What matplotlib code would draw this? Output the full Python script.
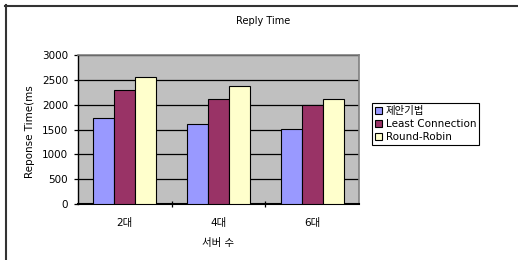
import matplotlib
matplotlib.use("Agg")
import matplotlib.pyplot as plt
import numpy as np
from matplotlib.lines import Line2D
from matplotlib.patches import Rectangle

plt.rcParams['font.family'] = ['DejaVu Sans', 'Noto Sans CJK KR']

categories = ['2대', '4대', '6대']
series_names = ['제안기법', 'Least Connection', 'Round-Robin']
proposed = [1730, 1615, 1510]
least_conn = [2290, 2105, 1990]
round_robin = [2565, 2380, 2105]
yticks = [0, 500, 1000, 1500, 2000, 2500, 3000]
colors = ['#9999FF', '#993366', '#FFFFCC']

W, H = 518, 260
fig = plt.figure(figsize=(W / 100, H / 100), dpi=100)
ax = fig.add_axes([78 / W, 1 - 204 / H, (359 - 78) / W, (204 - 55) / H])
ax.set_facecolor('#C0C0C0')

x = np.arange(len(categories))
bw = 0.225
for i, (vals, c, name) in enumerate(zip([proposed, least_conn, round_robin], colors, series_names)):
    ax.bar(x + (i - 1) * bw, vals, width=bw, color=c, edgecolor='black', linewidth=0.8,
           label=name, zorder=3)

ax.set_xlim(-0.5, 2.5)
ax.set_ylim(0, 3000)
ax.set_yticks(yticks)
ax.yaxis.grid(True, color='black', linewidth=0.9, zorder=1)
ax.set_axisbelow(True)
ax.set_xticks(x)
ax.set_xticklabels(categories)
ax.set_xticks([0.5, 1.5], minor=True)
ax.tick_params(axis='x', which='major', length=0, pad=10, labelsize=7.5)
ax.tick_params(axis='x', which='minor', length=4, direction='inout', width=0.9)
ax.tick_params(axis='y', length=3, direction='out', width=0.9, pad=4, labelsize=7.5)

for s in ['top', 'right']:
    ax.spines[s].set_color('#808080')
    ax.spines[s].set_linewidth(1.2)
ax.spines['left'].set_color('black')
ax.spines['bottom'].set_color('black')
ax.spines['left'].set_linewidth(1.0)
ax.spines['bottom'].set_linewidth(1.5)

ax.set_xlabel('서버 수', fontsize=7.5, labelpad=7)

fig.text(30 / W, 1 - 178 / H, 'Reponse Time(ms)', rotation=90, ha='center', va='bottom',
         fontsize=7.5, zorder=1)
# chart area boundary cuts the axis title, as in the original
fig.add_artist(Rectangle((18 / W, 1 - 86 / H), 25 / W, 70 / H, transform=fig.transFigure,
                         facecolor='white', edgecolor='none', zorder=5))

fig.text(263 / W, 1 - 21 / H, 'Reply Time', ha='center', va='center', fontsize=7)

leg = fig.legend(loc='upper left', bbox_to_anchor=(372 / W, 1 - 103 / H), fontsize=7.5,
                 frameon=True, fancybox=False, edgecolor='black', framealpha=1,
                 handlelength=0.7, handleheight=0.7, handletextpad=0.3, borderpad=0.3,
                 labelspacing=0.3, borderaxespad=0)
leg.get_frame().set_linewidth(0.8)

# outer chart border (top and left only visible)
fig.add_artist(Line2D([5 / W, 1], [1 - 5.5 / H, 1 - 5.5 / H], color='#333333', linewidth=1.5,
                      transform=fig.transFigure, zorder=6))
fig.add_artist(Line2D([5.5 / W, 5.5 / W], [0, 1 - 5 / H], color='#333333', linewidth=1.5,
                      transform=fig.transFigure, zorder=6))

fig.savefig('out.png', dpi=100)
